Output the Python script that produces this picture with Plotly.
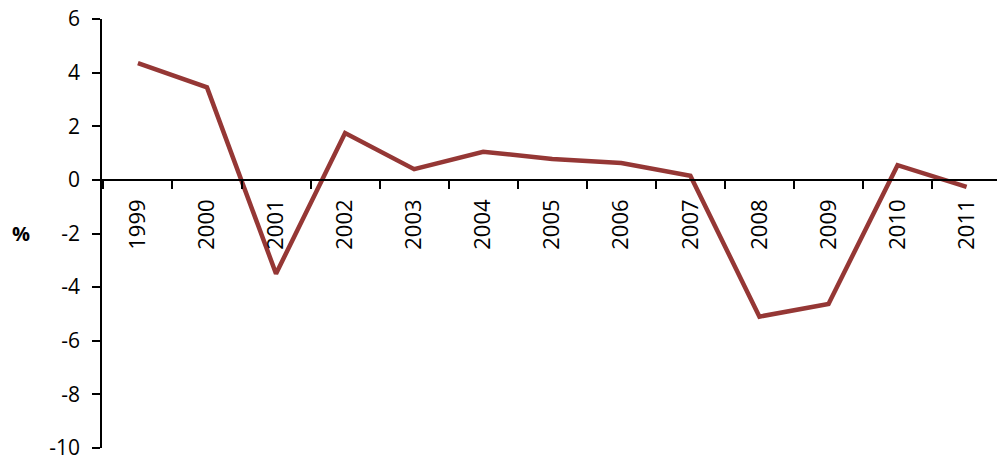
import plotly.graph_objects as go

# Annual change, per cent
years = ["1999", "2000", "2001", "2002", "2003", "2004", "2005",
         "2006", "2007", "2008", "2009", "2010", "2011"]
change_pct = [4.35, 3.45, -3.5, 1.75, 0.4, 1.05, 0.78,
              0.63, 0.15, -5.1, -4.63, 0.55, -0.26]

y_ticks = [6, 4, 2, 0, -2, -4, -6, -8, -10]
y_min, y_max = -10, 6

font_family = "Open Sans, Liberation Sans, sans-serif"

fig = go.Figure()
fig.add_trace(go.Scatter(
    x=years,
    y=change_pct,
    mode="lines",
    line=dict(color="#953735", width=4.5),
    hoverinfo="x+y",
))

fig.update_layout(
    width=997,
    height=461,
    margin=dict(l=102, r=0, t=19, b=13),
    paper_bgcolor="white",
    plot_bgcolor="white",
    showlegend=False,
    font=dict(family=font_family, size=20, color="black"),
    xaxis=dict(
        type="category",
        # the category axis runs slightly past the right edge of the page
        range=[-0.52, 12.44],
        anchor="free",
        # x axis crosses the value axis at zero
        position=(0 - y_min) / (y_max - y_min),
        showline=True,
        linecolor="black",
        linewidth=1.5,
        ticks="outside",
        ticklen=8,
        tickwidth=1.5,
        tickcolor="black",
        tickson="boundaries",
        tickangle=-90,
        tickfont=dict(family=font_family, size=22, color="black"),
        showgrid=False,
        zeroline=False,
        ticklabelstandoff=10,
    ),
    yaxis=dict(
        range=[y_min, y_max],
        tickvals=y_ticks,
        ticktext=[str(v) for v in y_ticks],
        tickfont=dict(family=font_family, size=21, color="black"),
        ticklabeloverflow="allow",
        showline=True,
        linecolor="black",
        linewidth=1.5,
        ticks="outside",
        ticklen=8,
        tickwidth=1.5,
        tickcolor="black",
        showgrid=False,
        zeroline=False,
        ticklabelstandoff=8,
    ),
)

fig.add_annotation(
    text="<b>%</b>",
    xref="paper", yref="y",
    x=-0.0905, y=-2,
    xanchor="center", yanchor="middle",
    showarrow=False,
    font=dict(family=font_family, size=20, color="black"),
)

fig.write_html("out.html")
